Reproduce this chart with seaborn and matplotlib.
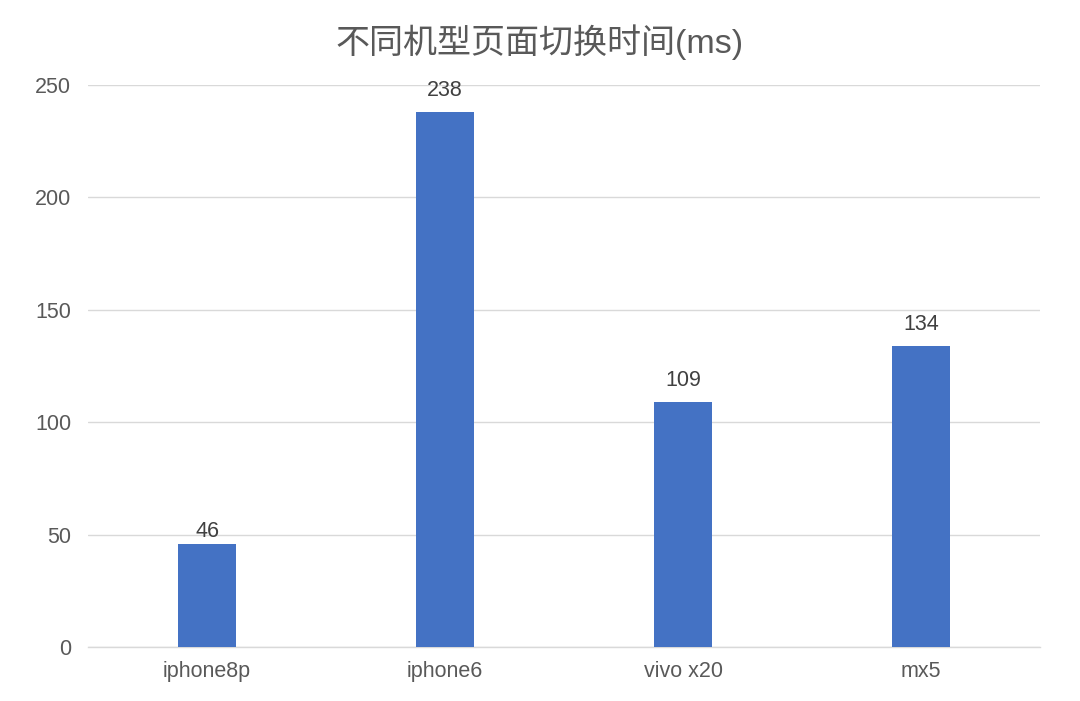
import matplotlib
matplotlib.use("Agg")
import matplotlib.pyplot as plt
import seaborn as sns
import pandas as pd

# ── Data ──────────────────────────────────────────────────────────────────────
models = ["iphone8p", "iphone6", "vivo x20", "mx5"]
switch_ms = [46, 238, 109, 134]
yticks = [0, 50, 100, 150, 200, 250]

df = pd.DataFrame({"model": models, "ms": switch_ms})

# ── Style ─────────────────────────────────────────────────────────────────────
sns.set_theme(style="white")
plt.rcParams["font.family"] = ["Liberation Sans", "Noto Sans CJK SC", "DejaVu Sans"]

BLUE = "#4472C4"
GRID = "#D9D9D9"
TXT = "#595959"

fig = plt.figure(figsize=(10.8, 7.01), dpi=100)
ax = fig.add_axes([0.0815, 0.077, 0.8815, 0.802])

sns.barplot(data=df, x="model", y="ms", color=BLUE, width=0.24,
            saturation=1, linewidth=0, ax=ax, zorder=3)

labels = ax.bar_label(ax.containers[0], padding=7.5, fontsize=15.5, color="#404040")
# the first label sits lower in the original (overlapping the 50 gridline)
labels[0].xyann = (0, 1)

ax.set_ylim(0, 250)
ax.set_xlim(-0.5, 3.5)
ax.set_yticks(yticks)
ax.yaxis.grid(True, color=GRID, linewidth=1, zorder=0)
ax.set_axisbelow(True)
for s in ["top", "right", "left"]:
    ax.spines[s].set_visible(False)
ax.spines["bottom"].set_color(GRID)
ax.spines["bottom"].set_linewidth(1)
ax.tick_params(axis="both", length=0, labelsize=15.5, colors=TXT)
ax.tick_params(axis="y", pad=12)
ax.tick_params(axis="x", pad=10)
ax.set_xlabel("")
ax.set_ylabel("")

fig.text(0.5, 0.94, "不同机型页面切换时间(ms)", fontsize=24.5, color=TXT,
         ha="center", va="center")

plt.savefig("out.png", dpi=100)
